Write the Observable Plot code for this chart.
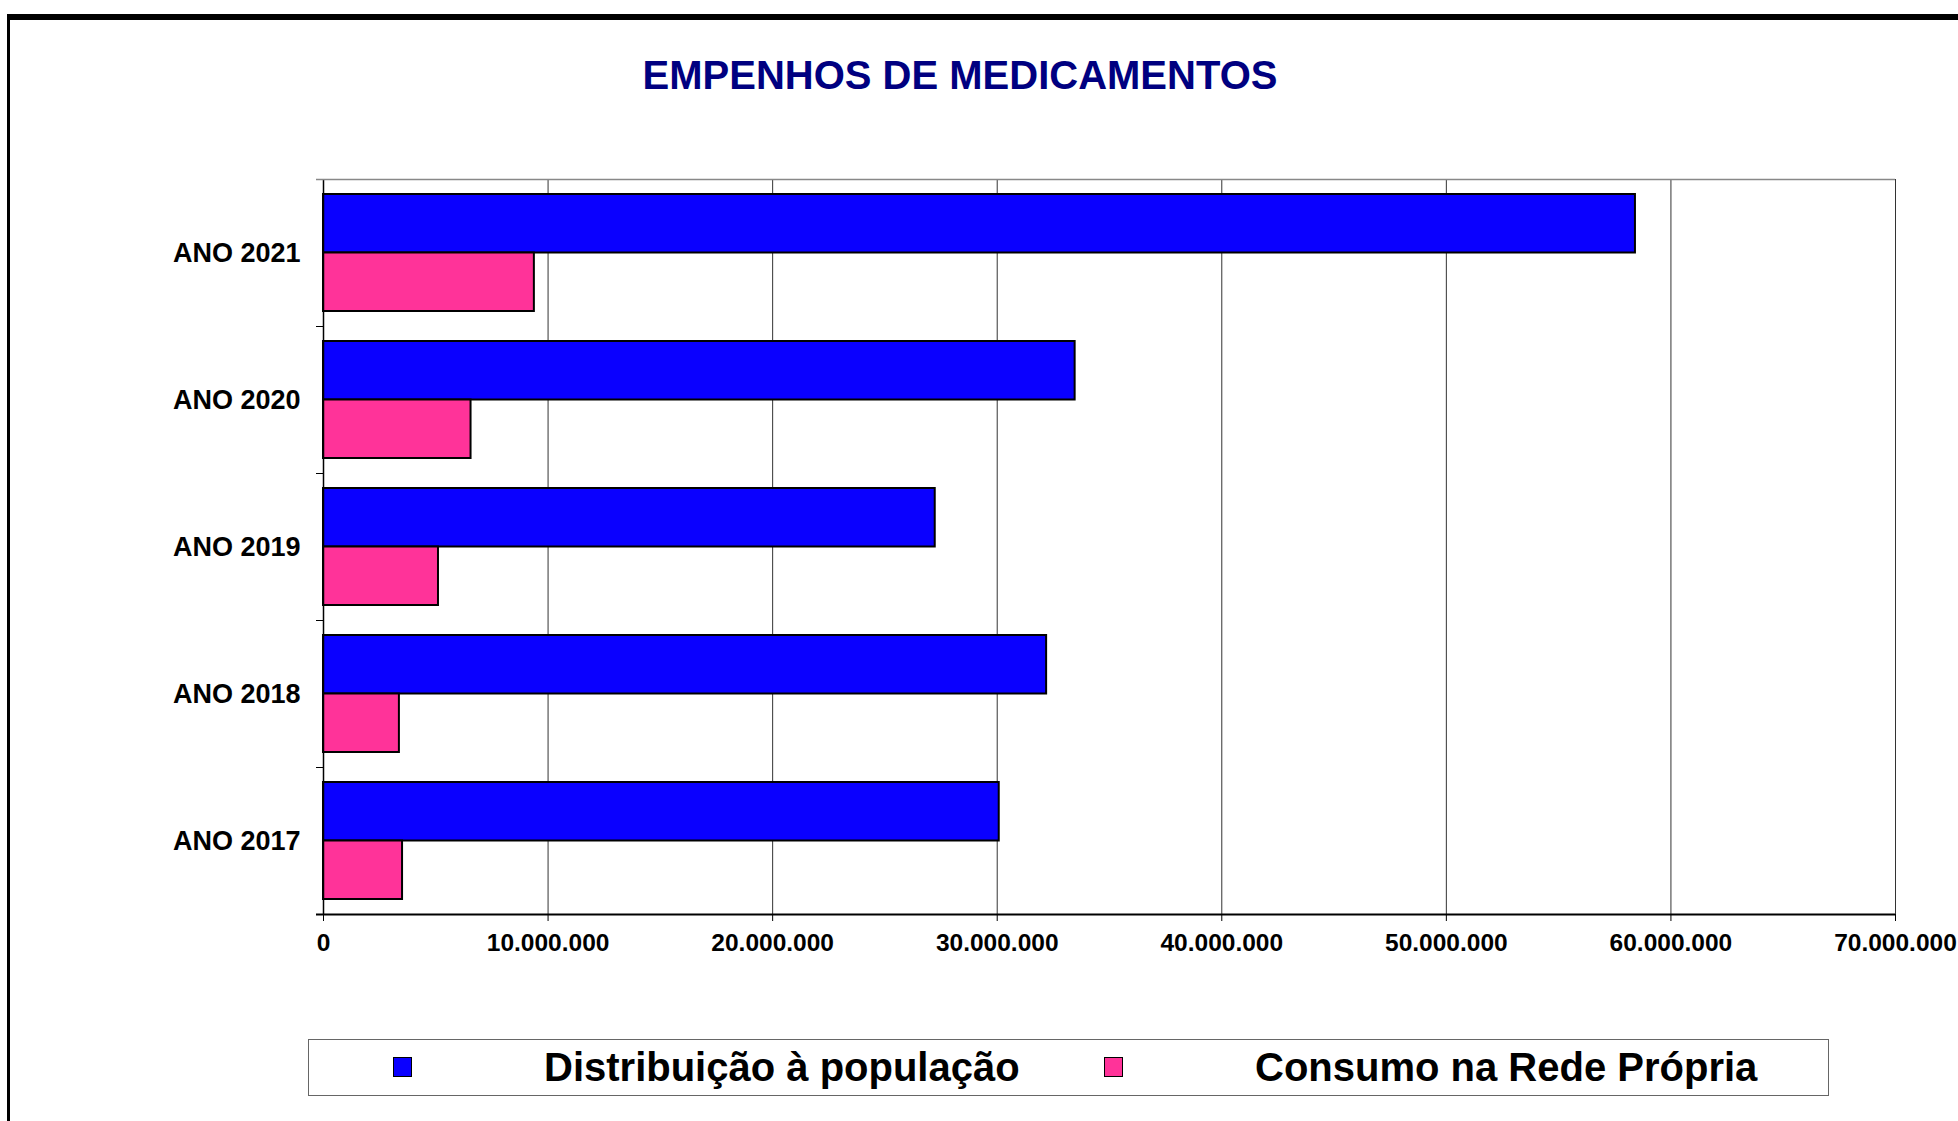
<!DOCTYPE html>
<html>
<head>
<meta charset="utf-8">
<script src="https://cdn.jsdelivr.net/npm/d3@7"></script>
<script src="https://cdn.jsdelivr.net/npm/@observablehq/plot@0.6"></script>
<style>
  html, body { margin: 0; padding: 0; background: #fff; width: 1958px; height: 1121px; overflow: hidden; }
  body { position: relative; font-family: "Liberation Sans", Arial, sans-serif; }
  #frame { position: absolute; left: 7px; top: 14px; width: 2100px; height: 1300px; border-top: 6px solid #000; border-left: 3px solid #000; box-sizing: border-box; }
  #title { position: absolute; left: 0; width: 1920px; top: 52px; text-align: center; font-size: 40px; font-weight: bold; color: #000080; line-height: 46px; }
  #chart { position: absolute; left: 0; top: 120px; }
  #legend { position: absolute; left: 308px; top: 1039px; width: 1521px; height: 57px; border: 1.5px solid #666; box-sizing: border-box; font-weight: bold; font-size: 40px; color: #000; }
  .sw { position: absolute; top: 17px; width: 19px; height: 20px; border: 1.5px solid #000; box-sizing: border-box; }
  .lt { position: absolute; top: 4px; line-height: 46px; white-space: nowrap; }
</style>
</head>
<body>
<div id="frame"></div>
<div id="title"></div>
<div id="chart"></div>
<div id="legend"></div>
<script>
const title = "EMPENHOS DE MEDICAMENTOS";
const years = [2021, 2020, 2019, 2018, 2017];
const seriesNames = ["Distribuição à população", "Consumo na Rede Própria"];
const seriesColors = ["#0a00ff", "#ff3399"];
const distribuicao = [58420000, 33470000, 27240000, 32200000, 30090000];
const consumo = [9390000, 6570000, 5120000, 3380000, 3520000];
const xTicks = [0, 10000000, 20000000, 30000000, 40000000, 50000000, 60000000, 70000000];

const fmt = d3.formatLocale({decimal: ",", thousands: ".", grouping: [3], currency: ["", ""]}).format(",d");

const rows = years.map((y, i) => ({year: y, dist: distribuicao[i], cons: consumo[i]}));

document.getElementById("title").textContent = title;

const plot = Plot.plot({
  width: 1958,
  height: 850,
  marginLeft: 323,
  marginRight: 63,
  marginTop: 59,
  marginBottom: 56,
  style: {fontFamily: "'Liberation Sans', Arial, sans-serif", color: "#000", background: "transparent"},
  x: {domain: [0, 70000000], axis: null, label: null},
  y: {domain: years, padding: 0, axis: null, label: null},
  marks: [
    Plot.ruleX(xTicks.slice(1), {stroke: "#333", strokeWidth: 1}),
    Plot.barX(rows, {y: "year", x: "dist", fill: seriesColors[0], stroke: "#000", strokeWidth: 2, insetTop: 15, insetBottom: 73.5}),
    Plot.barX(rows, {y: "year", x: "cons", fill: seriesColors[1], stroke: "#000", strokeWidth: 2, insetTop: 73.5, insetBottom: 15}),
    Plot.ruleX([0], {stroke: "#000", strokeWidth: 1.5}),
    // category boundary ticks on the left axis
    Plot.ruleY(years.slice(1), {y: d => d, dy: -73.5, x1: 0, x2: 0, insetLeft: -7, stroke: "#000", strokeWidth: 1}),
    // top border of plot area
    Plot.ruleY(years.slice(0, 1), {y: d => d, dy: -73.5, insetLeft: -7, stroke: "#888", strokeWidth: 1.5}),
    // bottom axis line
    Plot.ruleY(years.slice(-1), {y: d => d, dy: 73.5, insetLeft: -7, stroke: "#000", strokeWidth: 2}),
    Plot.axisX({ticks: xTicks, tickFormat: fmt, tickSize: 7, tickPadding: 12, fontSize: 24.5, fontWeight: "bold", stroke: "#000", label: null}),
    Plot.axisY({tickSize: 0, tickPadding: 23, fontSize: 27, fontWeight: "bold", tickFormat: d => `ANO ${d}`, label: null})
  ]
});
document.getElementById("chart").appendChild(plot);

const legend = document.getElementById("legend");
const swLeft = [84, 795];
const txtLeft = [235, 946];
seriesNames.forEach((name, i) => {
  const sw = document.createElement("div");
  sw.className = "sw";
  sw.style.left = swLeft[i] + "px";
  sw.style.background = seriesColors[i];
  legend.appendChild(sw);
  const t = document.createElement("div");
  t.className = "lt";
  t.style.left = txtLeft[i] + "px";
  t.textContent = name;
  legend.appendChild(t);
});
</script>
</body>
</html>
